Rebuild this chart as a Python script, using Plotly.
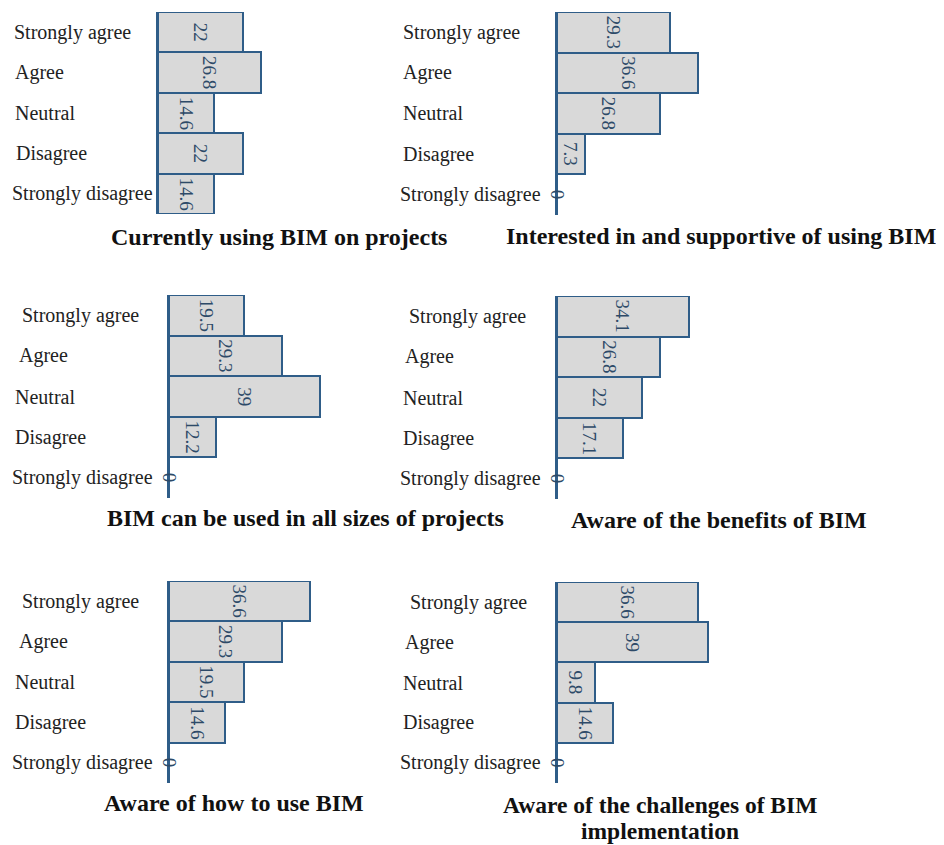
import plotly.graph_objects as go

categories = ["Strongly agree", "Agree", "Neutral", "Disagree", "Strongly disagree"]

titles = [
    ["Currently using BIM on projects"],
    ["Interested in and supportive of using BIM"],
    ["BIM can be used in all sizes of projects"],
    ["Aware of the benefits of BIM"],
    ["Aware of how to use BIM"],
    ["Aware of the challenges of BIM", "implementation"],
]

currently_using = [22, 26.8, 14.6, 22, 14.6]
interested_supportive = [29.3, 36.6, 26.8, 7.3, 0]
all_sizes = [19.5, 29.3, 39, 12.2, 0]
aware_benefits = [34.1, 26.8, 22, 17.1, 0]
aware_how = [36.6, 29.3, 19.5, 14.6, 0]
aware_challenges = [36.6, 39, 9.8, 14.6, 0]

series = [currently_using, interested_supportive, all_sizes,
          aware_benefits, aware_how, aware_challenges]

OFF = 8  # page body margin
W, H = 944 - OFF, 845 - OFF
PX_PER_UNIT = 3.86
XMAX = 48

# panel geometry in screen pixels: axis x, top, bottom, label x, label indents, title x, title y, title size
panels = [
    (158, 12, 214, 14, [0, 1, 1, 2, -2], 279, 237, 24),
    (557, 12, 215, 403, [0, 0, 0, 0, -3], 721, 236, 24),
    (169, 295, 498, 15, [7, 4, 0, 0, -3], 305, 518, 24),
    (557, 296, 499, 403, [6, 2, 0, 0, -3], 719, 520, 24),
    (169, 581, 783, 15, [7, 4, 0, 0, -3], 234, 803, 24),
    (557, 582, 783, 403, [7, 2, 0, 0, -3], 660, 805, 23.5),
]
TITLE_LINE = 26

BLUE = "#2f5d88"
FILL = "#d9d9d9"
SERIF = "Liberation Serif"


def px(x):
    return (x - OFF) / W


def py(y):
    return 1 - (y - OFF) / H


fig = go.Figure()
annotations = []
layout_axes = {}

for i, (vals, title, geo) in enumerate(zip(series, titles, panels)):
    ax_x, top, bot, lab_x, indents, tx, ty, tsize = geo
    n = i + 1
    xa = "x" if n == 1 else f"x{n}"
    ya = "y" if n == 1 else f"y{n}"
    fig.add_trace(go.Bar(
        x=vals, y=categories, orientation="h",
        marker=dict(color=FILL, line=dict(color=BLUE, width=2)),
        xaxis=xa, yaxis=ya, showlegend=False, hoverinfo="skip",
    ))
    xd = [px(ax_x), px(ax_x + XMAX * PX_PER_UNIT)]
    yd = [py(bot), py(top)]
    layout_axes[f"xaxis{'' if n == 1 else n}"] = dict(
        domain=xd, range=[0, XMAX], visible=False, anchor=ya, fixedrange=True)
    layout_axes[f"yaxis{'' if n == 1 else n}"] = dict(
        domain=yd, type="category", categoryorder="array", categoryarray=categories,
        range=[4.5, -0.5], showticklabels=False, ticks="", showgrid=False,
        zeroline=False, showline=True, linecolor=BLUE, linewidth=2, anchor=xa)
    for c, v, dx in zip(categories, vals, indents):
        annotations.append(dict(
            x=v / 2, y=c, xref=xa, yref=ya, text=str(v), textangle=90,
            showarrow=False, font=dict(family=SERIF, size=19, color="#2d4a68"),
            xanchor="center", yanchor="middle"))
        annotations.append(dict(
            x=px(lab_x + dx), y=c, xref="paper", yref=ya, text=c,
            showarrow=False, font=dict(family=SERIF, size=20, color="#222222"),
            xanchor="left", yanchor="middle", xshift=-2))
    for k, line in enumerate(title):
        annotations.append(dict(
            x=px(tx), y=py(ty + k * TITLE_LINE), xref="paper", yref="paper",
            text=f"<b>{line}</b>", showarrow=False,
            font=dict(family=SERIF, size=tsize, color="#111111"),
            xanchor="center", yanchor="middle"))

fig.update_layout(
    width=W, height=H, margin=dict(l=0, r=0, t=0, b=0),
    paper_bgcolor="white", plot_bgcolor="white",
    bargap=0, annotations=annotations, **layout_axes)

fig.write_html("out.html")
